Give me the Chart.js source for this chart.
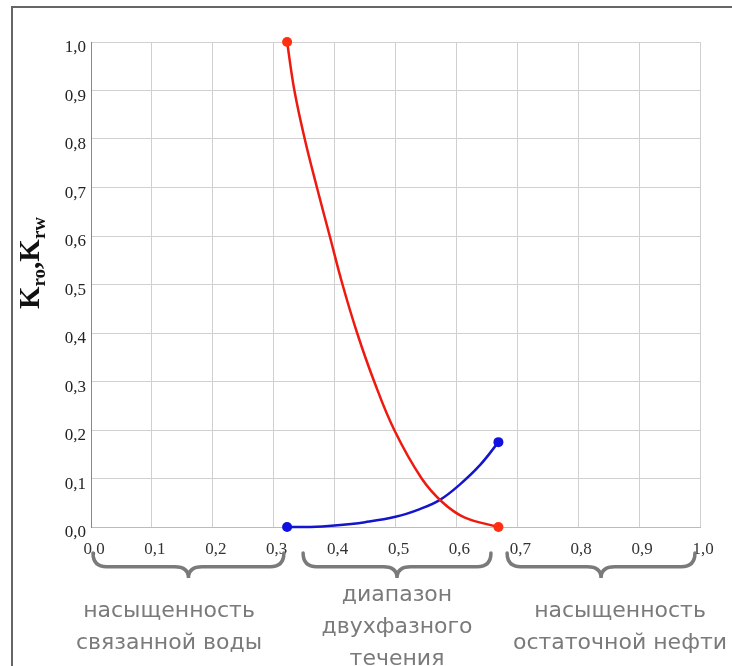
<!DOCTYPE html>
<html>
<head>
<meta charset="utf-8">
<script src="https://cdn.jsdelivr.net/npm/chart.js@4"></script>
<style>
  html, body { margin: 0; padding: 0; background: #fff; }
  canvas { display: block; }
</style>
</head>
<body>
<canvas id="relPerm" width="732" height="666"></canvas>
<script>
// water saturation (x) and relative permeabilities
const kroSw = [0.322, 0.334, 0.351, 0.371, 0.392, 0.413, 0.437, 0.465, 0.498, 0.543, 0.578, 0.613, 0.669];
const kroVal = [1.0, 0.9, 0.8, 0.7, 0.6, 0.5, 0.4, 0.3, 0.2, 0.1, 0.05, 0.02, 0.0];
const krwSw = [0.322, 0.36, 0.40, 0.45, 0.50, 0.54, 0.573, 0.606, 0.639, 0.669];
const krwVal = [0.0, 0.0, 0.003, 0.010, 0.021, 0.037, 0.056, 0.088, 0.128, 0.175];

const xTickLabels = ["0,0", "0,1", "0,2", "0,3", "0,4", "0,5", "0,6", "0,7", "0,8", "0,9", "1,0"];
const yTickLabels = ["0,0", "0,1", "0,2", "0,3", "0,4", "0,5", "0,6", "0,7", "0,8", "0,9", "1,0"];

// saturation zones shown with braces under the axis
const zoneFrom = [0.0, 0.345, 0.68];
const zoneTo = [0.32, 0.66, 0.995];
const zoneText = [
  ["насыщенность", "связанной воды"],
  ["диапазон", "двухфазного", "течения"],
  ["насыщенность", "остаточной нефти"]
];

function toPoints(xs, ys) {
  return xs.map((x, i) => ({ x: x, y: ys[i] }));
}

function endsOnly(ctx) {
  const n = ctx.dataset.data.length;
  return ctx.dataIndex === 0 || ctx.dataIndex === n - 1 ? 5 : 0;
}

function drawBrace(ctx, x1, x2, top, h) {
  const mid = (x1 + x2) / 2;
  const y1 = top + h * 0.55;
  const r = h * 0.55;
  ctx.beginPath();
  ctx.moveTo(x1, top);
  ctx.quadraticCurveTo(x1, y1, x1 + r, y1);
  ctx.lineTo(mid - r, y1);
  ctx.quadraticCurveTo(mid, y1, mid, top + h);
  ctx.quadraticCurveTo(mid, y1, mid + r, y1);
  ctx.lineTo(x2 - r, y1);
  ctx.quadraticCurveTo(x2, y1, x2, top);
  ctx.stroke();
}

const extras = {
  id: "extras",
  afterDraw(chart) {
    const ctx = chart.ctx;
    const xs = chart.scales.x;
    ctx.save();

    // outer frame
    ctx.strokeStyle = "#666";
    ctx.lineWidth = 2;
    ctx.beginPath();
    ctx.moveTo(12, 666);
    ctx.lineTo(12, 7);
    ctx.lineTo(732, 7);
    ctx.stroke();

    // braces and zone captions
    ctx.strokeStyle = "#7a7a7a";
    ctx.lineWidth = 3.5;
    ctx.lineCap = "round";
    ctx.fillStyle = "#7a7a7a";
    ctx.font = "22px 'DejaVu Sans'";
    ctx.textAlign = "center";
    ctx.textBaseline = "middle";
    const lineY = [[611, 643], [595, 627, 659], [611, 643]];
    const textX = [169, 397, 620];
    zoneFrom.forEach((from, i) => {
      const a = xs.getPixelForValue(from) + 2;
      const b = xs.getPixelForValue(zoneTo[i]) - 2;
      drawBrace(ctx, a, b, 553, 25);
      zoneText[i].forEach((t, j) => ctx.fillText(t, textX[i], lineY[i][j]));
    });

    // y axis title K_ro,K_rw
    ctx.translate(39, 263);
    ctx.rotate(-Math.PI / 2);
    ctx.fillStyle = "#111";
    ctx.textAlign = "left";
    ctx.textBaseline = "alphabetic";
    const parts = [["K", 29, 0], ["ro", 19, 6], [",", 29, 0], ["K", 29, 0], ["rw", 19, 6]];
    let total = 0;
    parts.forEach(p => {
      ctx.font = "bold " + p[1] + "px 'Liberation Serif'";
      total += ctx.measureText(p[0]).width;
    });
    let x = -total / 2;
    parts.forEach(p => {
      ctx.font = "bold " + p[1] + "px 'Liberation Serif'";
      ctx.fillText(p[0], x, p[2]);
      x += ctx.measureText(p[0]).width;
    });
    ctx.restore();
  }
};

new Chart(document.getElementById("relPerm"), {
  type: "scatter",
  data: {
    datasets: [
      {
        label: "Kro",
        data: toPoints(kroSw, kroVal),
        showLine: true,
        borderColor: "#ee1a10",
        backgroundColor: "#ff3010",
        borderWidth: 2.5,
        pointRadius: endsOnly,
        pointBorderWidth: 0,
        tension: 0.4,
        clip: false
      },
      {
        label: "Krw",
        data: toPoints(krwSw, krwVal),
        showLine: true,
        borderColor: "#1414cc",
        backgroundColor: "#1010e0",
        borderWidth: 2.5,
        pointRadius: endsOnly,
        pointBorderWidth: 0,
        tension: 0.4,
        clip: false
      }
    ]
  },
  options: {
    responsive: false,
    animation: false,
    layout: { padding: { top: 42, right: 32, left: 0, bottom: 0 } },
    plugins: { legend: { display: false }, tooltip: { enabled: false } },
    scales: {
      x: {
        type: "linear",
        min: 0,
        max: 1,
        afterFit: s => { s.height = 139; },
        afterBuildTicks: s => { s.ticks = xTickLabels.map((t, i) => ({ value: i / 10 })); },
        grid: { color: "#d0d0d0", drawTicks: false },
        border: { color: "#bbb" },
        ticks: {
          padding: 12,
          labelOffset: 3,
          color: "#333",
          font: { family: "'Liberation Serif'", size: 17 },
          callback: (v, i) => xTickLabels[i]
        }
      },
      y: {
        min: 0,
        max: 1,
        afterFit: s => { s.width = 91; },
        afterBuildTicks: s => { s.ticks = yTickLabels.map((t, i) => ({ value: i / 10 })); },
        grid: { color: "#d0d0d0", drawTicks: false },
        border: { color: "#888" },
        ticks: {
          padding: 5,
          labelOffset: 6,
          color: "#222",
          font: { family: "'Liberation Serif'", size: 17 },
          callback: (v, i) => yTickLabels[i]
        }
      }
    }
  },
  plugins: [extras]
});
</script>
</body>
</html>
